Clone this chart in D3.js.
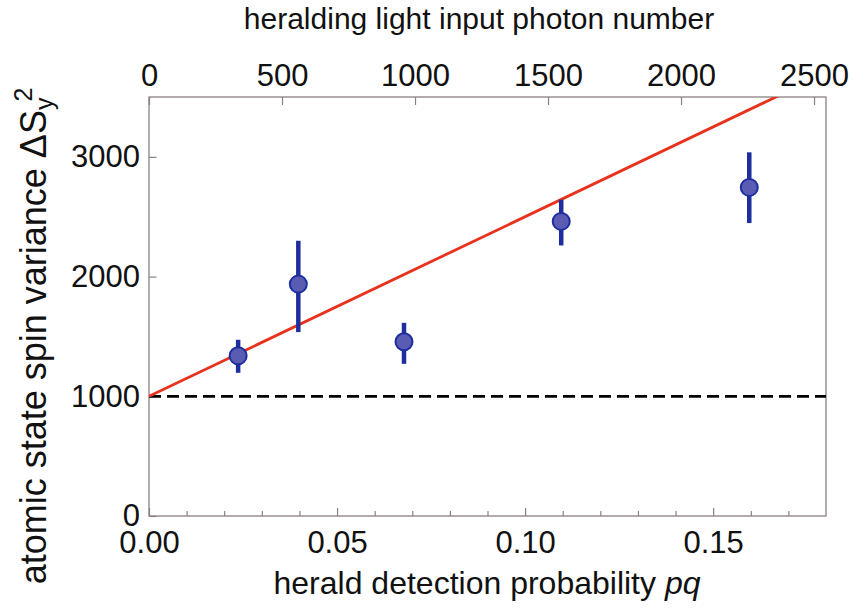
<!DOCTYPE html>
<html>
<head>
<meta charset="utf-8">
<script src="https://cdn.jsdelivr.net/npm/d3@7"></script>
<style>
  body { margin: 0; background: #fff; }
  svg text { font-family: "Liberation Sans", Arial, sans-serif; fill: #111; }
</style>
</head>
<body>
<div id="chart"></div>
<script>
// measured points (herald detection probability pq vs spin variance)
var pq = [0.0237, 0.0397, 0.0678, 0.1096, 0.1596];
var variance = [1338, 1937, 1455, 2461, 2745];
var errLow = [1196, 1536, 1271, 2260, 2447];
var errHigh = [1472, 2299, 1614, 2642, 3038];

// linear fit and projection noise level
var fitPq = [0, 0.18];
var fitVar = [1000, 3700];
var noiseLevel = 1000;

var xTicks = [0, 0.05, 0.10, 0.15];
var xMinorTicks = [0.01, 0.02, 0.03, 0.04, 0.06, 0.07, 0.08, 0.09, 0.11, 0.12, 0.13, 0.14, 0.16, 0.17];
var yTicks = [0, 1000, 2000, 3000];
var topTicks = [0, 500, 1000, 1500, 2000, 2500];

var margin = {top: 97, right: 27, bottom: 96, left: 149},
    W = 853, H = 612,
    width = W - margin.left - margin.right,
    height = H - margin.top - margin.bottom;

var x = d3.scaleLinear().domain([0, 0.18]).range([0, width]);
var xTop = d3.scaleLinear().domain([0, 2545]).range([0, width]);
var y = d3.scaleLinear().domain([0, 3500]).range([height, 0]);

var svg = d3.select("#chart").append("svg")
    .attr("width", W)
    .attr("height", H)
  .append("g")
    .attr("transform", "translate(" + margin.left + "," + margin.top + ")");

svg.append("clipPath").attr("id", "plotclip")
  .append("rect").attr("width", width).attr("height", height);

// axes
var axisColor = "#8a8080";

var gx = svg.append("g")
  .attr("transform", "translate(0," + height + ")")
  .call(d3.axisBottom(x).tickValues(xTicks).tickFormat(d3.format(".2f"))
    .tickSizeInner(-8).tickSizeOuter(0).tickPadding(15));

var gxMinor = svg.append("g")
  .attr("transform", "translate(0," + height + ")")
  .call(d3.axisBottom(x).tickValues(xMinorTicks).tickFormat("")
    .tickSizeInner(-5).tickSizeOuter(0));

var gy = svg.append("g")
  .call(d3.axisLeft(y).tickValues(yTicks).tickFormat(d3.format("d"))
    .tickSizeInner(-7.5).tickSizeOuter(0).tickPadding(9));

var gt = svg.append("g")
  .call(d3.axisTop(xTop).tickValues(topTicks).tickFormat(d3.format("d"))
    .tickSizeInner(-8).tickSizeOuter(0).tickPadding(11));

[gx, gxMinor, gy, gt].forEach(function(g) {
  g.select(".domain").remove();
  g.selectAll(".tick line").attr("stroke", axisColor).attr("stroke-width", 1.2);
  g.selectAll(".tick text")
    .attr("font-size", 31)
    .attr("font-family", "Liberation Sans, Arial, sans-serif")
    .attr("fill", "#111");
});

// frame
svg.append("rect")
  .attr("width", width)
  .attr("height", height)
  .attr("fill", "none")
  .attr("stroke", axisColor)
  .attr("stroke-width", 1.3);

// dashed noise level
svg.append("line")
  .attr("x1", x(0)).attr("x2", x(0.18))
  .attr("y1", y(noiseLevel)).attr("y2", y(noiseLevel))
  .attr("stroke", "#000")
  .attr("stroke-width", 2.8)
  .attr("stroke-dasharray", "12,6");

// fit line
var fitData = fitPq.map(function(d, i) { return {x: d, y: fitVar[i]}; });
svg.append("path")
  .datum(fitData)
  .attr("clip-path", "url(#plotclip)")
  .attr("fill", "none")
  .attr("stroke", "#e8321e")
  .attr("stroke-width", 2.8)
  .attr("d", d3.line().x(function(d) { return x(d.x); }).y(function(d) { return y(d.y); }));

// data with error bars
var pts = pq.map(function(d, i) {
  return {x: d, y: variance[i], lo: errLow[i], hi: errHigh[i]};
});

svg.selectAll(".err")
  .data(pts)
  .enter().append("line")
  .attr("class", "err")
  .attr("x1", function(d) { return x(d.x); })
  .attr("x2", function(d) { return x(d.x); })
  .attr("y1", function(d) { return y(d.lo); })
  .attr("y2", function(d) { return y(d.hi); })
  .attr("stroke", "#1f2e9e")
  .attr("stroke-width", 4.5);

svg.selectAll(".dot")
  .data(pts)
  .enter().append("circle")
  .attr("class", "dot")
  .attr("cx", function(d) { return x(d.x); })
  .attr("cy", function(d) { return y(d.y); })
  .attr("r", 8.5)
  .attr("fill", "#5a5cb4")
  .attr("stroke", "#1f2e9e")
  .attr("stroke-width", 2);

// axis titles
var root = d3.select("#chart svg");

root.append("text")
  .attr("x", 479).attr("y", 29)
  .attr("text-anchor", "middle")
  .attr("font-size", 30)
  .text("heralding light input photon number");

var bl = root.append("text")
  .attr("x", 487).attr("y", 594)
  .attr("text-anchor", "middle")
  .attr("font-size", 32);
bl.append("tspan").text("herald detection probability ");
bl.append("tspan").attr("font-style", "italic").text("pq");

var yl = root.append("text")
  .attr("transform", "translate(46,336) rotate(-90)")
  .attr("text-anchor", "middle")
  .attr("font-size", 36);
yl.append("tspan").text("atomic state spin variance  \u0394S");
yl.append("tspan").attr("font-size", 25).attr("dy", 7).text("y");
yl.append("tspan").attr("font-size", 25).attr("dx", -4).attr("dy", -21).text("2");
</script>
</body>
</html>
